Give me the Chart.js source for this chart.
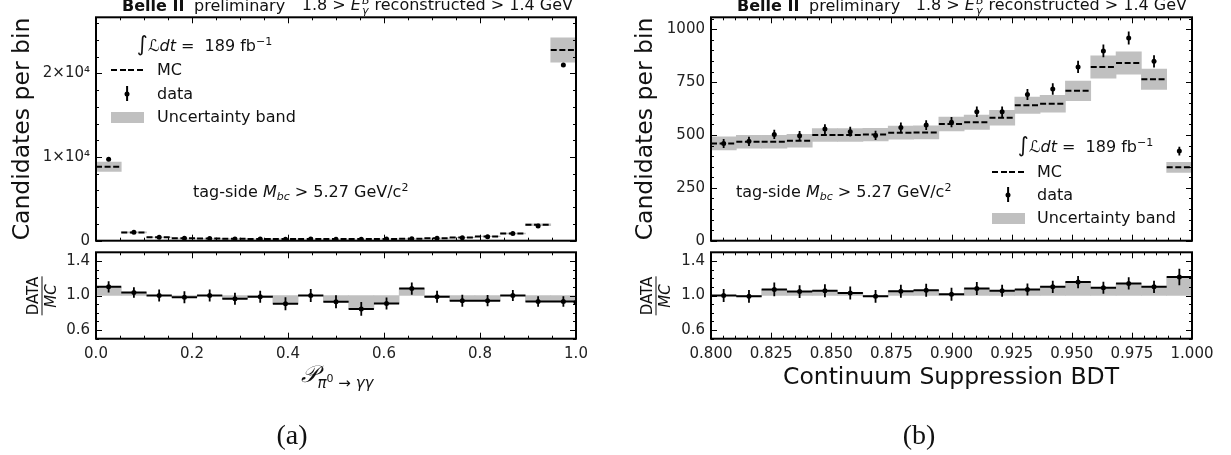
<!DOCTYPE html>
<html>
<head>
<meta charset="utf-8">
<script src="https://cdn.jsdelivr.net/npm/chart.js@4.4.1/dist/chart.umd.min.js"></script>
<style>
  body { margin: 0; width: 1231px; height: 455px; position: relative; overflow: hidden; background: #fff;
         font-family: "DejaVu Sans", sans-serif; color: #111; }
  canvas { position: absolute; left: 0; top: 0; }
  .t { position: absolute; white-space: nowrap; font-size: 16px; line-height: 1; transform: translateY(-50%); }
  .stk { display: inline-flex; flex-direction: column; font-size: 11px; line-height: 10px; font-style: italic; vertical-align: 6px; margin-left: 1px; }
  .sub { font-size: 11px; vertical-align: -3px; }
  .sup { font-size: 11px; vertical-align: 6px; }
  .int { font-size: 21px; }
  .ylab { position: absolute; font-size: 23.5px; line-height: 1; white-space: nowrap; transform: translate(-50%, -50%) rotate(-90deg); }
  .frac { position: absolute; font-size: 15px; line-height: 1; text-align: center; transform: translate(-50%, -50%) rotate(-90deg); }
  .frac div:first-child { border-bottom: 1.5px solid #111; padding-bottom: 1px; margin-bottom: 1px; }
  .xlab { position: absolute; font-size: 23.5px; line-height: 1; white-space: nowrap; transform: translate(-50%, -50%); }
  .cap { position: absolute; font-family: "Liberation Serif", serif; font-size: 28px; line-height: 1; transform: translate(-50%, -50%); }
  .mc { position: absolute; height: 2px; background: repeating-linear-gradient(90deg, #000 0 6px, transparent 6px 8.6px); }
  .band { position: absolute; background: #c0c0c0; }
  .dot { position: absolute; width: 5px; height: 5px; border-radius: 50%; background: #000; transform: translate(-50%, -50%); }
  .ebar { position: absolute; width: 1.8px; background: #000; transform: translateX(-50%); }
</style>
</head>
<body>
<canvas id="aMain" width="1231" height="455"></canvas>
<canvas id="aRatio" width="1231" height="455"></canvas>
<canvas id="bMain" width="1231" height="455"></canvas>
<canvas id="bRatio" width="1231" height="455"></canvas>

<!-- panel (a) texts -->
<div class="t" style="left:122px;top:6px;font-weight:bold">Belle II</div>
<div class="t" style="left:194px;top:6px">preliminary</div>
<div class="t" style="right:658px;top:6px">1.8 &gt; <i>E</i><span class="stk"><span>B</span><span>γ</span></span> reconstructed &gt; 1.4 GeV</div>
<div class="t" style="left:137px;top:44px"><span class="int">∫</span><i>ℒdt</i> = &nbsp;189 fb<span class="sup">−1</span></div>
<div class="mc" style="left:111px;top:69px;width:33px"></div>
<div class="t" style="left:157px;top:70px">MC</div>
<div class="ebar" style="left:127px;top:86px;height:15px"></div>
<div class="dot" style="left:127px;top:94px"></div>
<div class="t" style="left:157px;top:94px">data</div>
<div class="band" style="left:111px;top:112px;width:33px;height:11px"></div>
<div class="t" style="left:157px;top:117px">Uncertainty band</div>
<div class="t" style="left:193px;top:192px">tag-side <i>M</i><span class="sub"><i>bc</i></span> &gt; 5.27 GeV/c<span class="sup">2</span></div>
<div class="ylab" style="left:22px;top:129px">Candidates per bin</div>
<div class="frac" style="left:42px;top:296px"><div>DATA</div><div><i>MC</i></div></div>
<div class="xlab" style="left:337px;top:377px"><span style="font-family:'DejaVu Serif',serif;font-style:italic">𝒫</span><span style="font-size:15px;vertical-align:-6px"><i>π</i><span style="font-size:11px;vertical-align:6px">0</span> → <i>γγ</i></span></div>
<div class="cap" style="left:292px;top:435px">(a)</div>

<!-- panel (b) texts -->
<div class="t" style="left:737px;top:6px;font-weight:bold">Belle II</div>
<div class="t" style="left:809px;top:6px">preliminary</div>
<div class="t" style="right:44px;top:6px">1.8 &gt; <i>E</i><span class="stk"><span>B</span><span>γ</span></span> reconstructed &gt; 1.4 GeV</div>
<div class="t" style="left:736px;top:192px">tag-side <i>M</i><span class="sub"><i>bc</i></span> &gt; 5.27 GeV/c<span class="sup">2</span></div>
<div class="t" style="left:1018px;top:145px"><span class="int">∫</span><i>ℒdt</i> = &nbsp;189 fb<span class="sup">−1</span></div>
<div class="mc" style="left:992px;top:171px;width:33px"></div>
<div class="t" style="left:1037px;top:172px">MC</div>
<div class="ebar" style="left:1008px;top:187px;height:15px"></div>
<div class="dot" style="left:1008px;top:195px"></div>
<div class="t" style="left:1037px;top:195px">data</div>
<div class="band" style="left:992px;top:213px;width:33px;height:11px"></div>
<div class="t" style="left:1037px;top:218px">Uncertainty band</div>
<div class="ylab" style="left:645px;top:129px">Candidates per bin</div>
<div class="frac" style="left:656px;top:296px"><div>DATA</div><div><i>MC</i></div></div>
<div class="xlab" style="left:951px;top:377px">Continuum Suppression BDT</div>
<div class="cap" style="left:919px;top:435px">(b)</div>

<script>
// ---- panel (a): photon pi0 probability, 19 bins on [0, 1]
const edgesA = Array.from({ length: 20 }, (_, i) => i / 19);
const mcA = [8850, 990, 410, 290, 250, 225, 205, 200, 190, 195, 190, 215, 225, 285, 370, 510, 860, 1900, 22800];
const mcErrA = [560, 60, 25, 18, 15, 14, 13, 12, 12, 12, 12, 13, 14, 17, 22, 30, 52, 115, 1450];
const dataA = [9720, 1020, 410, 285, 250, 217, 202, 182, 190, 181, 161, 195, 243, 281, 348, 480, 860, 1770, 21000];
const dataErrA = [99, 32, 20, 17, 16, 15, 14, 13, 14, 13, 13, 14, 16, 17, 19, 22, 29, 42, 145];
const ratioA = [1.10, 1.035, 1.0, 0.98, 1.0, 0.963, 0.985, 0.905, 1.0, 0.927, 0.845, 0.908, 1.08, 0.985, 0.94, 0.94, 1.0, 0.93, 0.93, 0.92];
const ratioErrA = [0.065, 0.06, 0.07, 0.07, 0.07, 0.07, 0.07, 0.075, 0.075, 0.075, 0.08, 0.07, 0.07, 0.07, 0.07, 0.065, 0.065, 0.06, 0.06, 0.06];

// ---- panel (b): continuum suppression BDT, 19 bins on [0.8, 1]
const edgesB = Array.from({ length: 20 }, (_, i) => 0.8 + 0.2 * i / 19);
const mcB = [460, 468, 468, 473, 500, 500, 502, 511, 512, 552, 560, 582, 641, 648, 709, 822, 841, 764, 347];
const mcErrB = [31, 30, 30, 30, 30, 30, 30, 31, 31, 33, 34, 35, 39, 40, 46, 53, 53, 48, 24];
const dataB = [460, 470, 503, 497, 528, 516, 498, 536, 547, 561, 610, 610, 692, 718, 822, 898, 959, 849, 424];
const dataErrB = [21, 22, 22, 22, 23, 23, 22, 23, 23, 24, 25, 25, 26, 27, 29, 30, 31, 29, 21];
const ratioB = [1.0, 0.99, 1.07, 1.045, 1.055, 1.03, 0.99, 1.05, 1.06, 1.015, 1.08, 1.055, 1.07, 1.10, 1.155, 1.09, 1.14, 1.10, 1.215];
const ratioErrB = [0.075, 0.075, 0.08, 0.075, 0.075, 0.075, 0.075, 0.075, 0.075, 0.075, 0.075, 0.07, 0.07, 0.07, 0.07, 0.07, 0.07, 0.07, 0.095];

// tick labels
const xLabelsA = [0, 0.2, 0.4, 0.6, 0.8, 1.0];
const yLabelsA = [0, 10000, 20000];
const xLabelsB = [0.8, 0.825, 0.85, 0.875, 0.9, 0.925, 0.95, 0.975, 1.0];
const yLabelsB = [0, 250, 500, 750, 1000];
const ratioLabels = [0.6, 1.0, 1.4];

Chart.defaults.font.family = '"DejaVu Sans", sans-serif';

const range = (a, b, s) => {
  const out = [];
  const n = Math.round((b - a) / s);
  for (let i = 0; i <= n; i++) out.push(a + i * s);
  return out;
};
const centers = edges => edges.slice(0, -1).map((e, i) => (e + edges[i + 1]) / 2);

// inward ticks on all four sides plus the frame
const frameTicks = {
  id: 'frameTicks',
  afterDraw(chart, args, o) {
    const { ctx, chartArea: a, scales: { x, y } } = chart;
    ctx.save();
    ctx.strokeStyle = '#000';
    ctx.lineWidth = 1;
    ctx.beginPath();
    const vx = (vals, len) => vals.forEach(v => {
      const p = Math.round(x.getPixelForValue(v)) + 0.5;
      ctx.moveTo(p, a.bottom); ctx.lineTo(p, a.bottom - len);
      ctx.moveTo(p, a.top); ctx.lineTo(p, a.top + len);
    });
    const vy = (vals, len) => vals.forEach(v => {
      const p = Math.round(y.getPixelForValue(v)) + 0.5;
      ctx.moveTo(a.left, p); ctx.lineTo(a.left + len, p);
      ctx.moveTo(a.right, p); ctx.lineTo(a.right - len, p);
    });
    vx(o.xMinor, 3); vx(o.xMajor, 6);
    vy(o.yMinor, 3); vy(o.yMajor, 6);
    ctx.stroke();
    ctx.lineWidth = 2;
    ctx.strokeRect(a.left, a.top, a.right - a.left, a.bottom - a.top);
    ctx.restore();
  }
};

// vertical error bars for datasets carrying yErr
const errorBars = {
  id: 'errorBars',
  afterDatasetsDraw(chart) {
    const { ctx, chartArea: a } = chart;
    ctx.save();
    ctx.beginPath();
    ctx.rect(a.left, a.top, a.right - a.left, a.bottom - a.top);
    ctx.clip();
    ctx.strokeStyle = '#000';
    ctx.lineWidth = 1.8;
    chart.data.datasets.forEach((ds, di) => {
      if (!ds.yErr) return;
      const meta = chart.getDatasetMeta(di);
      const ys = chart.scales[meta.yAxisID];
      meta.data.forEach((pt, i) => {
        const v = ds.data[i].y, e = ds.yErr[i];
        ctx.beginPath();
        ctx.moveTo(pt.x, ys.getPixelForValue(v - e));
        ctx.lineTo(pt.x, ys.getPixelForValue(v + e));
        ctx.stroke();
      });
    });
    ctx.restore();
  }
};

function bandSet(edges, lo, hi) {
  return {
    type: 'bar',
    data: centers(edges).map((c, i) => ({ x: c, y: [lo[i], hi[i]] })),
    backgroundColor: '#c0c0c0', borderWidth: 0,
    barPercentage: 1, categoryPercentage: 1, grouped: false, order: 3, clip: 0
  };
}

function stepSet(edges, vals, dash) {
  const pts = [];
  vals.forEach((v, i) => {
    pts.push({ x: edges[i], y: v }, { x: edges[i + 1], y: v }, { x: edges[i + 1], y: null });
  });
  return {
    type: 'line', data: pts, borderColor: '#000', borderWidth: 2, borderDash: dash,
    pointRadius: 0, spanGaps: false, fill: false, order: 2, clip: 0
  };
}

function pointSet(xs, vals, errs) {
  return {
    type: 'scatter', data: vals.map((v, i) => ({ x: xs[i], y: v })), yErr: errs,
    backgroundColor: '#000', borderColor: '#000', pointRadius: 2.5, pointBorderWidth: 0,
    order: 1, clip: 0
  };
}

function axis(min, max, labels, fmt, horiz, size) {
  return {
    type: 'linear', min, max, offset: false,
    display: !!labels,
    grid: { display: false, drawTicks: false },
    border: { display: false },
    ticks: { autoSkip: false, maxRotation: 0, padding: 6, color: '#222', font: { size: 15 }, callback: fmt },
    afterBuildTicks: s => { if (labels) s.ticks = labels.map(v => ({ value: v })); },
    afterFit: s => {
      if (!labels) return;
      if (horiz) s.height = size; else s.width = size;
      s.paddingLeft = s.paddingRight = s.paddingTop = s.paddingBottom = 0;
    }
  };
}

function makeChart(id, area, sc, datasets, marks) {
  const [L, T, R, B] = area;
  const Wy = 60, Hx = 30;
  return new Chart(document.getElementById(id), {
    type: 'scatter',
    data: { datasets },
    options: {
      responsive: false, animation: false, events: [],
      layout: { padding: { left: L - Wy, top: T, right: 1231 - R, bottom: 455 - B - (sc.xLabels ? Hx : 0) } },
      plugins: { legend: { display: false }, tooltip: { enabled: false }, frameTicks: marks },
      scales: {
        x: axis(sc.xMin, sc.xMax, sc.xLabels, sc.xFmt, true, Hx),
        y: axis(sc.yMin, sc.yMax, sc.yLabels, sc.yFmt, false, Wy)
      }
    },
    plugins: [frameTicks, errorBars]
  });
}

const ratioMarks = { yMajor: ratioLabels, yMinor: range(0.5, 1.5, 0.1) };
const marksXA = { xMajor: range(0, 1, 0.2), xMinor: range(0, 1, 0.05) };
const marksXB = { xMajor: range(0.8, 1, 0.025), xMinor: range(0.8, 1, 0.005) };
const fmt1 = v => v.toFixed(1);
const fmt3 = v => v.toFixed(3);
const ones = n => Array(n).fill(1);

// (a) main
makeChart('aMain', [96, 17.3, 576, 240.7],
  { xMin: 0, xMax: 1, yMin: 0, yMax: 26700, yLabels: yLabelsA, yFmt: v => v === 0 ? '0' : (v / 1e4) + '×10⁴' },
  [
    pointSet(centers(edgesA), dataA, dataErrA),
    stepSet(edgesA, mcA, [6, 2.6]),
    bandSet(edgesA, mcA.map((v, i) => v - mcErrA[i]), mcA.map((v, i) => v + mcErrA[i]))
  ],
  { ...marksXA, yMajor: yLabelsA, yMinor: range(0, 26000, 2000) });

// (a) ratio
makeChart('aRatio', [96, 252.3, 576, 338.7],
  { xMin: 0, xMax: 1, xLabels: xLabelsA, xFmt: fmt1, yMin: 0.5, yMax: 1.5, yLabels: ratioLabels, yFmt: fmt1 },
  [
    pointSet([...centers(edgesA), 1.0], ratioA, ratioErrA),
    stepSet(edgesA, ratioA.slice(0, 19), []),
    bandSet(edgesA, ones(19), ratioA.slice(0, 19))
  ],
  { ...marksXA, ...ratioMarks });

// (b) main
makeChart('bMain', [711, 17.3, 1192, 240.7],
  { xMin: 0.8, xMax: 1, yMin: 0, yMax: 1057, yLabels: yLabelsB, yFmt: v => String(v) },
  [
    pointSet(centers(edgesB), dataB, dataErrB),
    stepSet(edgesB, mcB, [6, 2.6]),
    bandSet(edgesB, mcB.map((v, i) => v - mcErrB[i]), mcB.map((v, i) => v + mcErrB[i]))
  ],
  { ...marksXB, yMajor: yLabelsB, yMinor: range(0, 1050, 50) });

// (b) ratio
makeChart('bRatio', [711, 252.3, 1192, 338.7],
  { xMin: 0.8, xMax: 1, xLabels: xLabelsB, xFmt: fmt3, yMin: 0.5, yMax: 1.5, yLabels: ratioLabels, yFmt: fmt1 },
  [
    pointSet(centers(edgesB), ratioB, ratioErrB),
    stepSet(edgesB, ratioB, []),
    bandSet(edgesB, ones(19), ratioB)
  ],
  { ...marksXB, ...ratioMarks });
</script>
</body>
</html>
